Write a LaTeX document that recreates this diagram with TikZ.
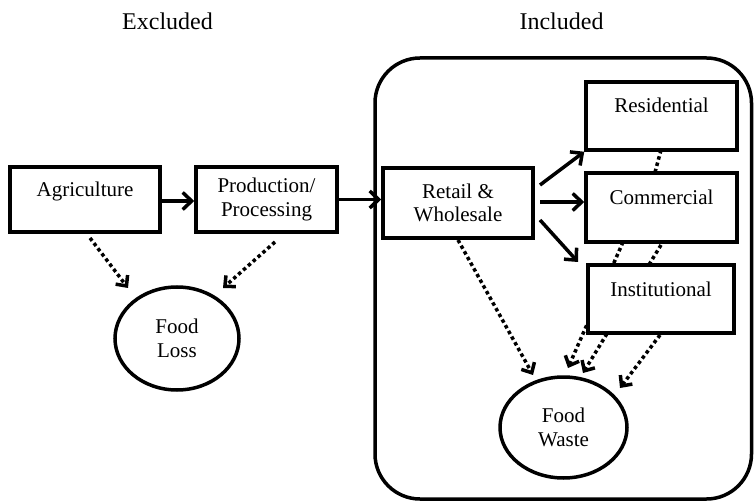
\documentclass[tikz,border=0pt]{standalone}
\usepackage{fontspec}
\setmainfont{Liberation Serif}
\usetikzlibrary{arrows.meta,shapes.geometric}
\pgfdeclarelayer{background}
\pgfsetlayers{background,main}
\begin{document}
\begin{tikzpicture}[x=1pt,y=-1pt,
  every node/.style={font=\fontsize{21}{23.5}\selectfont},
  box/.style={draw, line width=3.5pt, fill=white, inner sep=0pt, align=center},
  onebox/.style={box, text height=15pt, text depth=21pt},
  oval/.style={draw, ellipse, line width=3.5pt, fill=white, inner sep=0pt, align=center},
  head/.style={font=\fontsize{24}{28}\selectfont, anchor=base},
  flow/.style={line width=3.5pt, -{Straight Barb[length=9pt,width=17pt]}},
  dotline/.style={line width=3.5pt, dash pattern=on 3.5pt off 3pt},
  lossflow/.style={dotline, -{Straight Barb[length=8pt,width=15pt]}}]
\useasboundingbox (0,0) rectangle (754,502);

% headings
\node[head] (excl) at (167.5,30) {Excluded};
\node[head] (incl) at (561.5,30) {Included};

% enclosing frame
\draw[line width=3.5pt, rounded corners=45pt] (375,58) rectangle (751.5,499);

% boxes
\node[onebox, minimum width=150pt, minimum height=65pt] (agri) at (85,199.5) {Agriculture};
\node[box, minimum width=141pt, minimum height=65pt] (prod) at (266.5,199.5) {Production/\\Processing};
\node[box, minimum width=150pt, minimum height=70pt] (retail) at (458,203) {Retail \&\\Wholesale};
\node[onebox, minimum width=151pt, minimum height=68pt] (res) at (661.5,116) {Residential};
\node[onebox, minimum width=151pt, minimum height=69pt] (comm) at (661.5,207.5) {Commercial};
\node[onebox, minimum width=146pt, minimum height=68pt] (inst) at (661,299) {Institutional};
\node[oval, minimum width=124pt, minimum height=103pt] (loss) at (177,338.5) {Food\\Loss};
\node[oval, minimum width=127pt, minimum height=101pt] (waste) at (563.5,427.5) {Food\\Waste};

% free ends
\coordinate (r1) at (540,185);
\coordinate (r2) at (540,202);
\coordinate (r3) at (540,220);
\coordinate (i3) at (578,262);
\coordinate (a1) at (90,238);
\coordinate (l1) at (128,288);
\coordinate (p1) at (275,242);
\coordinate (l2) at (223,288);
\coordinate (w0s) at (458,240);
\coordinate (w0) at (533,375);
\coordinate (res1) at (661,150);
\coordinate (com0) at (654,176);
\coordinate (c1) at (623,242);
\coordinate (w1) at (568,368);
\coordinate (c2) at (661,245);
\coordinate (w2) at (583,373);
\coordinate (n1) at (660,335);
\coordinate (w3) at (620,388);

% solid flows
\draw[flow] (agri.east |- 0,201) -- (prod.west |- 0,201);
\draw[flow] (prod.east) -- (prod.east -| retail.west);
\draw[flow] (r1) -- (res.south west);
\draw[flow] (r2) -- (r2 -| comm.west);
\draw[flow] (r3) -- (i3);

% dotted flows, behind the boxes
\begin{pgfonlayer}{background}
\draw[lossflow] (a1) -- (l1);
\draw[lossflow] (p1) -- (l2);
\draw[lossflow] (w0s) -- (w0);
\draw[dotline] (res1) -- (com0);
\draw[lossflow] (c1) -- (w1);
\draw[lossflow] (c2) -- (w2);
\draw[lossflow] (n1) -- (w3);
\end{pgfonlayer}
\end{tikzpicture}
\end{document}
